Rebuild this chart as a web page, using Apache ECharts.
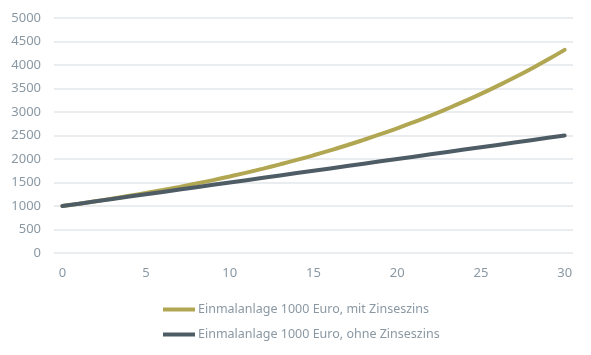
<!DOCTYPE html>
<html><head><meta charset="utf-8">
<script src="https://cdn.jsdelivr.net/npm/echarts@6/dist/echarts.min.js"></script>
<style>html,body{margin:0;padding:0;background:#fff}#c{width:591px;height:355px}</style>
</head><body><div id="c"></div>
<script>
var years = [0,1,2,3,4,5,6,7,8,9,10,11,12,13,14,15,16,17,18,19,20,21,22,23,24,25,26,27,28,29,30];
var withCompound = [1000,1050,1103,1158,1216,1276,1340,1407,1477,1551,1629,1710,1796,1886,1980,2079,2183,2292,2407,2527,2653,2786,2925,3072,3225,3386,3556,3733,3920,4116,4322];
var withoutCompound = [1000,1050,1100,1150,1200,1250,1300,1350,1400,1450,1500,1550,1600,1650,1700,1750,1800,1850,1900,1950,2000,2050,2100,2150,2200,2250,2300,2350,2400,2450,2500];
var seriesNames = ['Einmalanlage 1000 Euro, mit Zinseszins','Einmalanlage 1000 Euro, ohne Zinseszins'];
var yTicks = {min:0, max:5000, interval:500};

var chart = echarts.init(document.getElementById('c'), null, {renderer:'canvas'});
var font = 'Noto Sans';
chart.setOption({
  animation:false,
  grid:{left:54,right:18,top:18,bottom:102},
  legend:{
    orient:'vertical', left:158, top:298, itemGap:12,
    itemWidth:32, itemHeight:4, icon:'rect',
    textStyle:{color:'#8a98a3', fontFamily:font, fontSize:12.5, padding:[0,0,0,-2]},
    data:seriesNames
  },
  xAxis:{
    type:'category', data:years, boundaryGap:true,
    axisLine:{show:false}, axisTick:{show:false},
    axisLabel:{color:'#8a98a3', fontFamily:font, fontSize:13, margin:14,
      interval:function(i){return i%5===0;}}
  },
  yAxis:{
    type:'value', min:yTicks.min, max:yTicks.max, interval:yTicks.interval,
    axisLine:{show:false}, axisTick:{show:false},
    axisLabel:{color:'#8a98a3', fontFamily:font, fontSize:13, margin:13,
      formatter:function(v){return String(v);}},
    splitLine:{lineStyle:{color:'#e3e7ea', width:1.5}}
  },
  series:[
    {name:seriesNames[0], type:'line', data:withCompound, symbol:'none', smooth:true,
     lineStyle:{color:'#b1a651', width:4, cap:'round'}, itemStyle:{color:'#b1a651'}},
    {name:seriesNames[1], type:'line', data:withoutCompound, symbol:'none',
     lineStyle:{color:'#4e5c65', width:4, cap:'round'}, itemStyle:{color:'#4e5c65'}}
  ]
});
</script></body></html>
